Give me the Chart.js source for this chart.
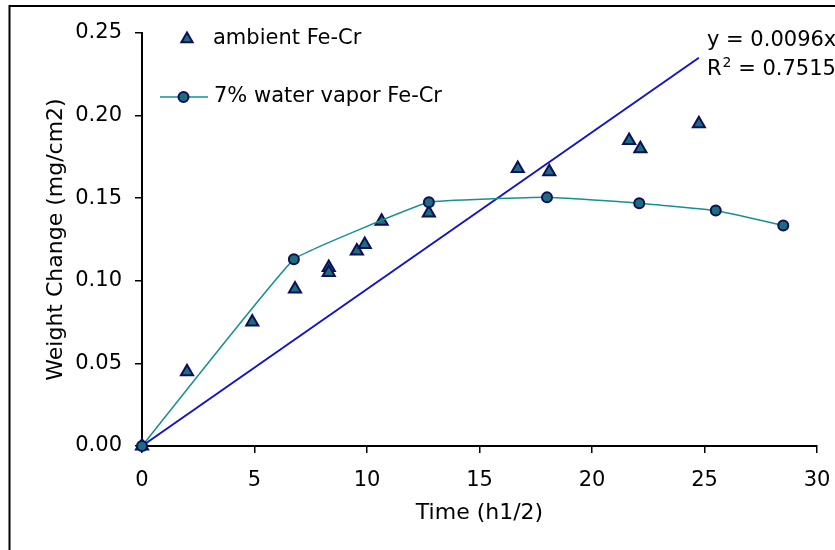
<!DOCTYPE html>
<html>
<head>
<meta charset="utf-8">
<script src="https://cdn.jsdelivr.net/npm/chart.js@4.4.1/dist/chart.umd.min.js"></script>
<style>
  html, body { margin: 0; padding: 0; background: #fff; }
  #wrap { width: 835px; height: 550px; position: relative; }
</style>
</head>
<body>
<div id="wrap"><canvas id="chart" width="835" height="550"></canvas></div>
<script>
// data
const ambientX = [0, 2.0, 4.9, 6.8, 8.3, 8.3, 9.55, 9.9, 10.65, 12.75, 16.7, 18.1, 21.65, 22.15, 24.75];
const ambientY = [0, 0.045, 0.075, 0.095, 0.108, 0.105, 0.118, 0.122, 0.136, 0.141, 0.168, 0.166, 0.185, 0.180, 0.195];

const waterX = [0, 6.75, 12.75, 18.0, 22.1, 25.5, 28.5];
const waterY = [0, 0.113, 0.1475, 0.1505, 0.147, 0.1425, 0.1335];

// linear trend line of the ambient series (y = 0.0096x)
const trendX = [0, 24.75];
const trendY = [0, 0.235];

const xTicks = [0, 5, 10, 15, 20, 25, 30];
const yTicks = [0.00, 0.05, 0.10, 0.15, 0.20, 0.25];

const trendLabel = 'y = 0.0096x';
const r2Label = '0.7515';

const FONT = 'DejaVu Sans, Verdana, sans-serif';
const TEAL = '#16918f';
const MARK_FILL = '#1d6d7a';
const MARK_EDGE = '#0b0f5c';
const TREND = '#1414c4';

const toPoints = (xs, ys) => xs.map((x, i) => ({ x: x, y: ys[i] }));

// frame, legend and trend line text
const extras = {
  id: 'extras',
  afterDraw(chart) {
    const ctx = chart.ctx;
    ctx.save();
    // outer frame (left + top)
    ctx.strokeStyle = '#000';
    ctx.lineWidth = 2;
    ctx.beginPath();
    ctx.moveTo(9.5, 550);
    ctx.lineTo(9.5, 6);
    ctx.lineTo(835, 6);
    ctx.stroke();

    // legend
    ctx.font = '21px ' + FONT;
    ctx.textBaseline = 'middle';
    ctx.textAlign = 'left';
    ctx.fillStyle = MARK_FILL;
    ctx.strokeStyle = MARK_EDGE;
    ctx.lineWidth = 2;
    Chart.helpers.drawPoint(ctx, { pointStyle: 'triangle', radius: 6.5, borderWidth: 2, rotation: 0 }, 187, 39);
    ctx.fillStyle = '#000';
    ctx.fillText('ambient Fe-Cr', 213, 39);

    ctx.strokeStyle = TEAL;
    ctx.lineWidth = 1.5;
    ctx.beginPath();
    ctx.moveTo(160, 97);
    ctx.lineTo(208, 97);
    ctx.stroke();
    ctx.fillStyle = MARK_FILL;
    ctx.strokeStyle = MARK_EDGE;
    ctx.lineWidth = 2;
    Chart.helpers.drawPoint(ctx, { pointStyle: 'circle', radius: 5, borderWidth: 2, rotation: 0 }, 183.5, 97);
    ctx.fillStyle = '#000';
    ctx.fillText('7% water vapor Fe-Cr', 214, 97);

    // trend line equation
    ctx.fillText(trendLabel, 707, 41);
    ctx.fillText('R', 707, 70);
    const rw = ctx.measureText('R').width;
    ctx.font = '14px ' + FONT;
    ctx.fillText('2', 707 + rw + 1, 63);
    const sw = ctx.measureText('2').width;
    ctx.font = '21px ' + FONT;
    ctx.fillText(' = ' + r2Label, 707 + rw + sw + 1, 70);
    ctx.restore();
  }
};

new Chart(document.getElementById('chart'), {
  type: 'scatter',
  data: {
    datasets: [
      {
        label: '7% water vapor Fe-Cr',
        data: toPoints(waterX, waterY),
        showLine: true,
        borderColor: TEAL,
        borderWidth: 1.5,
        tension: 0.08,
        pointStyle: 'circle',
        pointRadius: 5,
        pointBackgroundColor: MARK_FILL,
        pointBorderColor: MARK_EDGE,
        pointBorderWidth: 2,
        clip: false,
        order: 1
      },
      {
        label: 'ambient Fe-Cr',
        data: toPoints(ambientX, ambientY),
        showLine: false,
        pointStyle: 'triangle',
        pointRadius: 7,
        pointBackgroundColor: MARK_FILL,
        pointBorderColor: MARK_EDGE,
        pointBorderWidth: 2,
        clip: false,
        order: 2
      },
      {
        label: 'trend',
        data: toPoints(trendX, trendY),
        showLine: true,
        borderColor: TREND,
        borderWidth: 2,
        pointRadius: 0,
        clip: false,
        order: 3
      }
    ]
  },
  options: {
    responsive: false,
    animation: false,
    devicePixelRatio: 1,
    layout: { padding: { left: 0, top: 33, right: 18, bottom: 0 } },
    plugins: {
      legend: { display: false },
      tooltip: { enabled: false }
    },
    scales: {
      x: {
        type: 'linear',
        min: 0,
        max: 30,
        afterFit: (s) => { s.height = 104; s.paddingLeft = 0; s.paddingRight = 0; },
        afterBuildTicks: (s) => { s.ticks = xTicks.map(v => ({ value: v })); },
        ticks: { color: '#000', font: { family: FONT, size: 21 }, padding: 15 },
        grid: { drawOnChartArea: false, drawTicks: true, tickLength: 7, color: '#000', lineWidth: 1.5 },
        border: { color: '#000', width: 2 },
        title: {
          display: true,
          text: 'Time (h1/2)',
          color: '#000',
          font: { family: FONT, size: 22 },
          padding: { top: 0, bottom: 24 }
        }
      },
      y: {
        type: 'linear',
        min: 0,
        max: 0.25,
        afterFit: (s) => { s.width = 142; s.paddingTop = 0; s.paddingBottom = 0; },
        afterBuildTicks: (s) => { s.ticks = yTicks.map(v => ({ value: v })); },
        ticks: {
          color: '#000',
          font: { family: FONT, size: 21 },
          padding: 13,
          callback: (v) => Number(v).toFixed(2)
        },
        grid: { drawOnChartArea: false, drawTicks: true, tickLength: 7, color: '#000', lineWidth: 1.5 },
        border: { color: '#000', width: 2 },
        title: {
          display: true,
          text: 'Weight Change (mg/cm2)',
          color: '#000',
          font: { family: FONT, size: 22 },
          padding: { top: 43, bottom: 0 }
        }
      }
    }
  },
  plugins: [extras]
});
</script>
</body>
</html>
